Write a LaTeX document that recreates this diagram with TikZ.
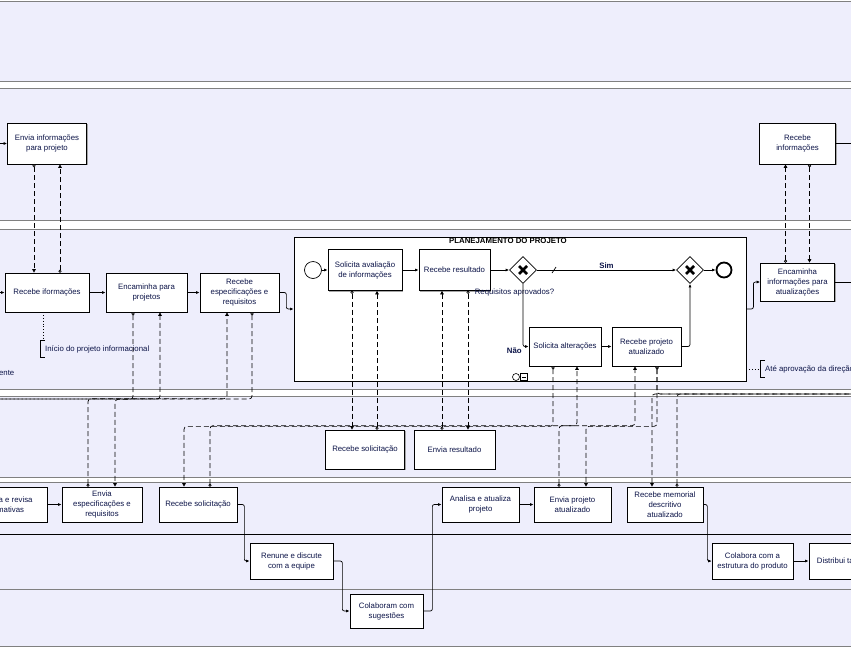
\documentclass[tikz,border=0pt]{standalone}
\usepackage{fontspec}
\setmainfont{Liberation Sans}
\usetikzlibrary{arrows.meta,shapes.geometric,shadows}
\definecolor{lane}{RGB}{238,238,252}
\definecolor{lanerule}{RGB}{128,128,128}
\definecolor{txt}{RGB}{12,20,72}
\newcommand\diagfont{\fontsize{7.8}{10}\selectfont}
\begin{document}
\begin{tikzpicture}[x=1pt, y=-1pt, font=\diagfont,
  act/.style 2 args={draw, fill=white, line width=0.7pt, align=center, text=txt,
    minimum width=#1, minimum height=#2, inner sep=1pt,
    drop shadow={shadow xshift=1.2pt, shadow yshift=-1.2pt, fill=black!35, opacity=1}},
  flow/.style={-{Latex[length=3.5pt,width=3pt]}, line width=0.7pt, rounded corners=2pt},
  msg/.style={{Circle[open,fill=white,length=3pt]}-{Triangle[length=3.5pt,width=3.5pt]},
    line width=0.7pt, dash pattern=on 5pt off 3pt, rounded corners=3pt},
  gate/.style={diamond, draw, fill=white, line width=0.7pt, minimum size=27, inner sep=0pt,
    path picture={
      \draw[line width=2.6pt] ([shift={(-4pt,-4pt)}]path picture bounding box.center) -- ([shift={(4pt,4pt)}]path picture bounding box.center);
      \draw[line width=2.6pt] ([shift={(-4pt,4pt)}]path picture bounding box.center) -- ([shift={(4pt,-4pt)}]path picture bounding box.center);}},
  note/.style={anchor=west, text=txt, inner xsep=5pt, inner ysep=1pt, minimum height=17}]
  \useasboundingbox (0,0) rectangle (851,651);
  \clip (0,0) rectangle (851,651);

  % pools and lanes
  \fill[lane] (0,1) rectangle (851,81);
  \fill[lane] (0,88) rectangle (851,220);
  \fill[lane] (0,229) rectangle (851,389);
  \fill[lane] (0,396) rectangle (851,477);
  \fill[lane] (0,482) rectangle (851,646);
  \foreach \y in {1,81,88,220,229,389,396,477,482,589,646}
    \draw[lanerule, line width=1pt] (0,\y) -- (851,\y);
  \draw[line width=0.8pt] (0,534) -- (851,534);

  % loose ends of flows leaving the picture
  \coordinate (inA) at (-5,143.5);
  \coordinate (outA) at (860,143.5);
  \coordinate (inB) at (-5,292.5);
  \coordinate (outB) at (860,282);
  \coordinate (offL) at (-5,399);
  \coordinate (offR) at (860,394);

  % second pool
  \node[act={79}{41}] (A1) at (47,143.5) {Envia informações\\para projeto};
  \node[act={76}{41}] (A2) at (797.5,143.5) {Recebe\\informações};

  % third pool
  \node[act={84}{39}] (B1) at (47,292.5) {Recebe iformações};
  \node[act={81}{39}] (B2) at (146.5,292.5) {Encaminha para\\projetos};
  \node[act={79}{39}] (B3) at (239.5,292.5) {Recebe\\especificações e\\requisitos};
  \node[act={74}{38}] (B4) at (797.5,282) {Encaminha\\informações para\\atualizações};

  % sub-process
  \node[draw, fill=white, line width=0.8pt, minimum width=452, minimum height=144,
    drop shadow={shadow xshift=1.2pt, shadow yshift=-1.2pt, fill=black!35, opacity=1}] (Sub) at (520,309) {};
  \node[font=\diagfont\bfseries, anchor=north, inner sep=1.5pt] (SubT) at ([xshift=-12pt]Sub.north) {PLANEJAMENTO DO PROJETO};
  \node[circle, draw, fill=white, minimum size=17, inner sep=0pt, line width=0.7pt] (st) at (313,270) {};
  \node[act={74}{41}] (S1) at (365,270) {Solicita avaliação\\de informações};
  \node[act={71}{41}] (S2) at (454.5,270) {Recebe resultado};
  \node[gate] (G1) at (523,270) {};
  \node[gate] (G2) at (690,270) {};
  \node[circle, draw, fill=white, minimum size=15, inner sep=0pt, line width=1.8pt] (en) at (724,270) {};
  \node[act={72}{39}] (S3) at (565,346.5) {Solicita alterações};
  \node[act={69}{39}] (S4) at (646.5,346.5) {Recebe projeto\\atualizado};
  \node[text=txt, anchor=north, inner sep=1pt] (Q) at ([xshift=-8.5pt,yshift=-4pt]G1.south) {Requisitos aprovados?};
  \draw[line width=0.6pt] (516,377) circle[radius=3.5pt];
  \draw[line width=0.6pt] (520.5,373.5) rectangle (527.5,380.5);
  \draw[line width=0.6pt] (522,377) -- (526,377);

  % fourth pool
  \node[act={79}{39}] (C1) at (365,449.5) {Recebe solicitação};
  \node[act={81}{39}] (C2) at (454.5,449.5) {Envia resultado};

  % fifth pool
  \node[act={84}{35}] (D1) at (5,504.5) {Analisa e revisa\\normativas};
  \node[act={80}{35}] (D2) at (102,504.5) {Envia\\especificações e\\requisitos};
  \node[act={78}{35}] (D3) at (198,504.5) {Recebe solicitação};
  \node[act={77}{35}] (D4) at (480.5,504.5) {Analisa e atualiza\\projeto};
  \node[act={77}{35}] (D5) at (572.5,504.5) {Envia projeto\\atualizado};
  \node[act={76}{35}] (D6) at (665,504.5) {Recebe memorial\\descritivo\\atualizado};
  \node[act={83}{36}] (E1) at (291.5,561) {Renune e discute\\com a equipe};
  \node[act={81}{36}] (E2) at (752.5,561) {Colabora com a\\estrutura do produto};
  \node[act={70}{36}] (E3) at (844,561) {Distribui tarefas};
  \node[act={73}{34}] (F1) at (386.5,611) {Colaboram com\\sugestões};

  % annotations
  \node[text=txt, anchor=east, inner sep=0pt] (N0) at (14.5,373) {ente};
  \node[note] (N1) at (40,349) {Início do projeto informacional};
  \draw[line width=0.7pt] ([xshift=5pt]N1.north west) -- (N1.north west) -- (N1.south west) -- ([xshift=5pt]N1.south west);
  \draw[dotted, line width=0.8pt] ([xshift=-4pt]B1.south) -- ([xshift=3pt]N1.north west);
  \node[note] (N2) at (760,369) {Até aprovação da direção técnica};
  \draw[line width=0.7pt] ([xshift=5pt]N2.north west) -- (N2.north west) -- (N2.south west) -- ([xshift=5pt]N2.south west);
  \draw[dotted, line width=0.8pt] (Sub.east |- N2.west) -- (N2.west);

  % sequence flows
  \draw[flow] (inA) -- (A1);
  \draw[flow] (A2) -- (outA);
  \draw[flow] (inB) -- (B1);
  \draw[flow] (B1) -- (B2);
  \draw[flow] (B2) -- (B3);
  \draw[flow] (B3.east) -- ++(7,0) |- (Sub.west);
  \draw[flow] (Sub.east) -- ++(7,0) |- (B4.west);
  \draw[flow] (B4) -- (outB);
  \draw[flow] (st) -- (S1);
  \draw[flow] (S1) -- (S2);
  \draw[flow] (S2) -- (G1);
  \draw[flow] (G1) -- node[above, text=txt, font=\diagfont\bfseries, inner sep=1pt] {Sim} (G2);
  \draw[line width=0.7pt] (552,273) -- (556,267);
  \draw[flow] (G2) -- (en);
  \draw[flow] (G1.south) |- node[pos=0.5, below left, text=txt, font=\diagfont\bfseries, inner sep=1pt] {Não} (S3.west);
  \draw[flow] (S3) -- (S4);
  \draw[flow] (S4.east) -| (G2.south);
  \draw[flow] (D1) -- (D2);
  \draw[flow] (D3.east) -- ++(7,0) |- (E1.west);
  \draw[flow] (E1.east) -- ++(9,0) |- (F1.west);
  \draw[flow] (F1.east) -- ++(9,0) |- (D4.west);
  \draw[flow] (D4) -- (D5);
  \draw[flow] (D6.east) -- ++(4,0) |- (E2.west);
  \draw[flow] (E2) -- (E3);

  % message flows
  \draw[msg] ([xshift=-13pt]A1.south) -- ([xshift=-13pt]B1.north);
  \draw[msg] ([xshift=13pt]B1.north) -- ([xshift=13pt]A1.south);
  \draw[msg] ([xshift=12pt]A2.south) -- ([xshift=12pt]B4.north);
  \draw[msg] ([xshift=-12pt]B4.north) -- ([xshift=-12pt]A2.south);
  \draw[msg] ([xshift=-13.5pt]B2.south) -- ++(0,87) -| ([xshift=13pt]D2.north);
  \draw[msg] ([xshift=-14pt]D2.north) -- ++(0,-88) -| ([xshift=-12.5pt]B3.south);
  \draw[msg] ([xshift=12.5pt]B3.south) |- (offL);
  \draw[msg] (offL) -| ([xshift=13.5pt]B2.south);
  \draw[msg] ([xshift=-13pt]S1.south) -- ([xshift=-13pt]C1.north);
  \draw[msg] ([xshift=12pt]C1.north) -- ([xshift=12pt]S1.south);
  \draw[msg] ([xshift=-12.5pt]C2.north) -- ([xshift=-12.5pt]S2.south);
  \draw[msg] ([xshift=13.5pt]S2.south) -- ([xshift=13.5pt]C2.north);
  \draw[msg] ([xshift=-12pt]S3.south) -- ++(0,60) -| ([xshift=-14pt]D3.north);
  \draw[msg] ([xshift=12pt]D3.north) -- ++(0,-61) -| ([xshift=12pt]S3.south);
  \draw[msg] ([xshift=-13.5pt]D5.north) -- ++(0,-61) -| ([xshift=-11.5pt]S4.south);
  \draw[msg] ([xshift=10.5pt]S4.south) -- ++(0,60) -| ([xshift=13.5pt]D5.north);
  \draw[msg] ([xshift=10.5pt]S4.south) |- (offR);
  \draw[msg] ([xshift=12pt]D6.north) |- (offR);
  \draw[msg] (offR) -| ([xshift=-13pt]D6.north);
\end{tikzpicture}
\end{document}
